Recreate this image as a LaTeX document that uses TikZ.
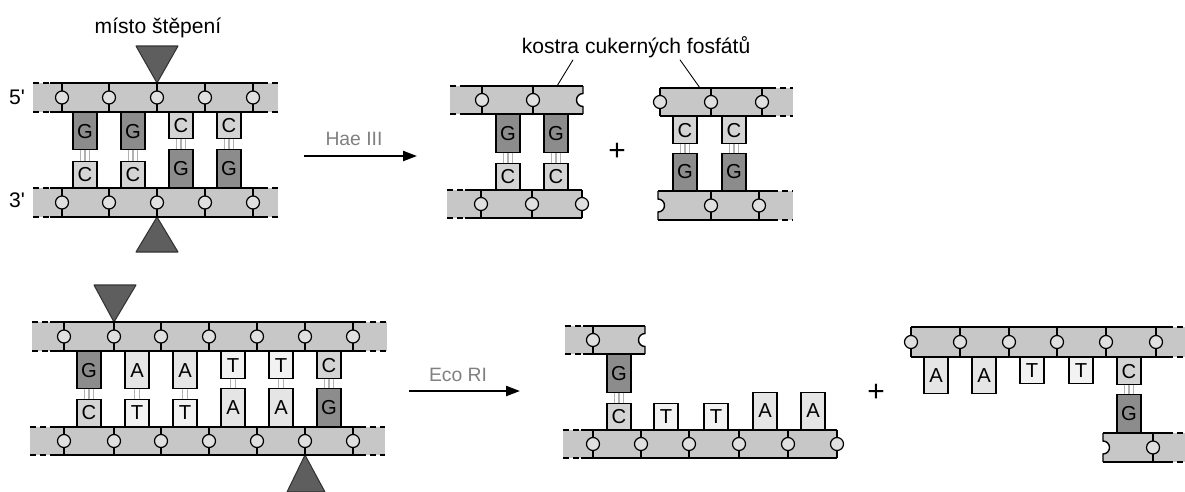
\documentclass[tikz,border=0pt]{standalone}
\usepackage{fontspec}
\setmainfont{Liberation Sans}
\newfontfamily\plainfont{Liberation Sans}[Ligatures=TeXOff]
\usetikzlibrary{arrows.meta}

\definecolor{sugargray}{gray}{0.78}
\definecolor{phosgray}{gray}{0.88}
\definecolor{gcol}{gray}{0.55}
\definecolor{ccol}{gray}{0.83}
\definecolor{acol}{gray}{0.9}
\definecolor{tcol}{gray}{0.95}
\definecolor{cutcol}{gray}{0.37}
\definecolor{enzgray}{gray}{0.5}

\tikzstyle{sugar} = [fill=sugargray]
\tikzstyle{rail} = [line width=0.8pt]
\tikzstyle{dashrail} = [line width=0.8pt, dash pattern=on 3.4pt off 2.3pt]
\tikzstyle{phos} = [draw, circle, fill=phosgray, inner sep=0pt, minimum size=0.26cm, line width=0.7pt]
\tikzstyle{base} = [draw, rectangle, inner sep=0pt, minimum width=0.48cm, line width=0.7pt, font=\fontsize{11.5}{12}\selectfont]
\tikzstyle{hb} = [gray!60, line width=0.6pt]
\tikzstyle{cutmark} = [draw=black!80, fill=cutcol, line width=0.6pt, line join=round]
\tikzstyle{enzyme} = [-{Triangle[length=0.28cm,width=0.2cm]}, line width=1.3pt]
\tikzstyle{enzlabel} = [text=enzgray, font=\fontsize{11}{13}\selectfont]
\tikzstyle{lbl} = [font=\fontsize{12}{14}\selectfont, inner sep=1pt]
\tikzstyle{endlbl} = [font=\plainfont\fontsize{12}{14}\selectfont, inner sep=1pt]
\tikzstyle{plus} = [font=\fontsize{17}{17}\selectfont]

% sugar-phosphate strand: name, x left, x right, y top, y bottom, phosphates
\newcommand{\backbone}[6]{%
  \fill[sugar] (#2,#4) rectangle (#3,#5);
  \foreach \p [count=\k] in {#6} {
    \draw[rail] (\p,#4) -- (\p,#5);
    \node[phos] (#1\k) at (\p,{0.5*(#4)+0.5*(#5)}) {};
  }
}
% edge lines: x left, solid from, solid to, x right, y top, y bottom
\newcommand{\rails}[6]{%
  \foreach \yy in {#5,#6} {
    \draw[dashrail] (#1,\yy) -- (#2,\yy);
    \draw[rail] (#2,\yy) -- (#3,\yy);
    \draw[dashrail] (#3,\yy) -- (#4,\yy);
  }
}
% cut ends with a missing phosphate
\newcommand{\notchR}[3]{%
  \fill[white] (#1,{0.5*(#2)+0.5*(#3)+6.5}) arc (90:270:6.5) -- cycle;
  \draw[rail] (#1,#2) -- (#1,{0.5*(#2)+0.5*(#3)+6.5}) arc (90:270:6.5) -- (#1,#3);
}
\newcommand{\notchL}[3]{%
  \fill[white] (#1,{0.5*(#2)+0.5*(#3)+6.5}) arc (90:-90:6.5) -- cycle;
  \draw[rail] (#1,#2) -- (#1,{0.5*(#2)+0.5*(#3)+6.5}) arc (90:-90:6.5) -- (#1,#3);
}

\begin{document}
\begin{tikzpicture}[x=0.02cm,y=0.02cm]
\useasboundingbox (0,0) rectangle (1185,-491);

%% Hae III: uncut duplex
\node[lbl] (misto) at (158,-28) {místo štěpení};
\draw[cutmark] (136,-46) -- (178,-46) -- (157,-83) -- cycle;
\draw[cutmark] (136,-252) -- (178,-252) -- (157,-217) -- cycle;
\node[endlbl] (five) at (17,-97) {5'};
\node[endlbl] (three) at (17,-200) {3'};

\backbone{pA}{33}{278}{-83}{-112}{62,109,157,205,253}
\rails{33}{50}{262}{278}{-83}{-112}
\backbone{pB}{33}{278}{-188}{-217}{62,109,157,205,253}
\rails{33}{50}{262}{278}{-188}{-217}

\foreach \x/\l/\h/\c [count=\i] in {85/G/0.74/gcol, 133/G/0.74/gcol, 181/C/0.52/ccol, 229/C/0.52/ccol}
  \node[base, fill=\c, minimum height=\h cm, anchor=north] (hu\i) at (\x,-112) {\l};
\foreach \x/\l/\h/\c [count=\i] in {85/C/0.52/ccol, 133/C/0.52/ccol, 181/G/0.76/gcol, 229/G/0.76/gcol}
  \node[base, fill=\c, minimum height=\h cm, anchor=south] (hd\i) at (\x,-188) {\l};
\foreach \i in {1,...,4}
  \foreach \o in {-0.09,0,0.09}
    \draw[hb] ([xshift=\o cm]hu\i.south) -- ([xshift=\o cm]hd\i.north);

\coordinate (haeS) at (304,-156);
\coordinate (haeE) at (417,-156);
\draw[enzyme] (haeS) -- (haeE);
\node[enzlabel] (hae) at (354,-139) {Hae III};

%% Hae III: blunt fragments
\node[lbl] (kostra) at (636,-47) {kostra cukerných fosfátů};
\coordinate (kA) at (557,-86);
\coordinate (kB) at (700,-88);
\draw[line width=0.5pt] ([xshift=-1.26cm]kostra.south) -- (kA);
\draw[line width=0.5pt] ([xshift=0.88cm]kostra.south) -- (kB);

\backbone{pC}{450}{583}{-86}{-114}{482,533}
\rails{450}{466}{583}{583}{-86}{-114}
\notchR{583}{-86}{-114}
\backbone{pD}{447}{582}{-190}{-218}{481,532,582}
\rails{447}{465}{582}{582}{-190}{-218}
\foreach \x [count=\i] in {508,556} {
  \node[base, fill=gcol, minimum height=0.76cm, anchor=north] (fu\i) at (\x,-114) {G};
  \node[base, fill=ccol, minimum height=0.52cm, anchor=south] (fd\i) at (\x,-190) {C};
  \foreach \o in {-0.09,0,0.09}
    \draw[hb] ([xshift=\o cm]fu\i.south) -- ([xshift=\o cm]fd\i.north);
}

\node[plus] (plus1) at (617,-152) {+};

\backbone{pE}{660}{793}{-88}{-116}{660,711,762}
\rails{660}{660}{770}{793}{-88}{-116}
\backbone{pF}{658}{793}{-191}{-220}{711,759}
\rails{658}{658}{772}{793}{-191}{-220}
\notchL{658}{-191}{-220}
\foreach \x [count=\i] in {685,734} {
  \node[base, fill=ccol, minimum height=0.54cm, anchor=north] (gu\i) at (\x,-116) {C};
  \node[base, fill=gcol, minimum height=0.74cm, anchor=south] (gd\i) at (\x,-191) {G};
  \foreach \o in {-0.09,0,0.09}
    \draw[hb] ([xshift=\o cm]gu\i.south) -- ([xshift=\o cm]gd\i.north);
}

%% Eco RI: uncut duplex
\draw[cutmark] (94,-285) -- (136,-285) -- (114,-322) -- cycle;
\draw[cutmark] (287,-492) -- (325,-492) -- (305,-455) -- cycle;

\backbone{pG}{32}{387}{-322}{-351}{64,114,161,209,257,305,353}
\rails{32}{50}{360}{387}{-322}{-351}
\backbone{pH}{30}{385}{-427}{-455}{64,114,161,209,257,305,353}
\rails{30}{50}{360}{385}{-427}{-455}

\foreach \x/\l/\h/\c [count=\i] in {89/G/0.74/gcol, 137/A/0.74/acol, 185/A/0.74/acol, 233/T/0.54/tcol, 281/T/0.54/tcol, 329/C/0.54/ccol}
  \node[base, fill=\c, minimum height=\h cm, anchor=north] (eu\i) at (\x,-351) {\l};
\foreach \x/\l/\h/\c [count=\i] in {89/C/0.54/ccol, 137/T/0.54/tcol, 185/T/0.54/tcol, 233/A/0.76/acol, 281/A/0.76/acol, 329/G/0.76/gcol}
  \node[base, fill=\c, minimum height=\h cm, anchor=south] (ed\i) at (\x,-427) {\l};
\foreach \i in {1,6}
  \foreach \o in {-0.09,0,0.09}
    \draw[hb] ([xshift=\o cm]eu\i.south) -- ([xshift=\o cm]ed\i.north);
\foreach \i in {2,...,5}
  \foreach \o in {-0.05,0.05}
    \draw[hb] ([xshift=\o cm]eu\i.south) -- ([xshift=\o cm]ed\i.north);

\coordinate (ecoS) at (409,-391);
\coordinate (ecoE) at (520,-391);
\draw[enzyme] (ecoS) -- (ecoE);
\node[enzlabel] (eco) at (458,-375) {Eco RI};

%% Eco RI: sticky-end fragments
\backbone{pI}{565}{645}{-326}{-354}{593}
\rails{565}{583}{645}{645}{-326}{-354}
\notchR{645}{-326}{-354}
\backbone{pJ}{563}{837}{-430}{-458}{593,641,689,739,788,837}
\rails{563}{581}{837}{837}{-430}{-458}
\node[base, fill=gcol, minimum height=0.76cm, anchor=north] (su1) at (619,-354) {G};
\foreach \x/\l/\h/\c [count=\i] in {619/C/0.52/ccol, 666/T/0.52/tcol, 716/T/0.52/tcol, 765/A/0.74/acol, 813/A/0.74/acol}
  \node[base, fill=\c, minimum height=\h cm, anchor=south] (sd\i) at (\x,-430) {\l};
\foreach \o in {-0.09,0,0.09}
  \draw[hb] ([xshift=\o cm]su1.south) -- ([xshift=\o cm]sd1.north);

\node[plus] (plus2) at (876,-393) {+};

\backbone{pK}{911}{1185}{-327}{-357}{911,960,1009,1057,1106,1156}
\rails{911}{911}{1167}{1185}{-327}{-357}
\backbone{pL}{1103}{1185}{-433}{-462}{1153}
\rails{1103}{1103}{1167}{1185}{-433}{-462}
\notchL{1103}{-433}{-462}
\foreach \x/\l/\h/\c [count=\i] in {936/A/0.72/acol, 984/A/0.72/acol, 1032/T/0.52/tcol, 1081/T/0.52/tcol, 1129/C/0.54/ccol}
  \node[base, fill=\c, minimum height=\h cm, anchor=north] (tu\i) at (\x,-357) {\l};
\node[base, fill=gcol, minimum height=0.76cm, anchor=south] (td5) at (1129,-433) {G};
\foreach \o in {-0.09,0,0.09}
  \draw[hb] ([xshift=\o cm]tu5.south) -- ([xshift=\o cm]td5.north);
\end{tikzpicture}
\end{document}
